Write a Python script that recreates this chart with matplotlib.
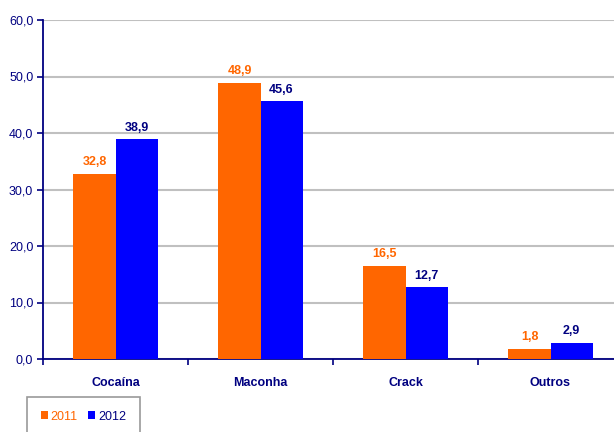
import matplotlib.pyplot as plt
import numpy as np

categories = ['Cocaína', 'Maconha', 'Crack', 'Outros']
vals_2011 = [32.8, 48.9, 16.5, 1.8]
vals_2012 = [38.9, 45.6, 12.7, 2.9]
years = ['2011', '2012']

orange = '#FF6600'
blue = '#0000FF'
navy = '#000080'

fig = plt.figure(figsize=(6.14, 4.32), dpi=100)
ax = fig.add_axes([43/614, 73/432, 580/614, 339/432])

x = np.arange(len(categories))
w = 0.29
b1 = ax.bar(x - w/2, vals_2011, w, color=orange, zorder=3, label=years[0])
b2 = ax.bar(x + w/2, vals_2012, w, color=blue, zorder=3, label=years[1])

for xi, v in zip(x, vals_2011):
    ax.text(xi - w/2, v + 1.0, '{:.1f}'.format(v).replace('.', ','), ha='center', va='bottom',
            color=orange, fontsize=9, fontweight='bold', family='Liberation Sans')
for xi, v in zip(x, vals_2012):
    ax.text(xi + w/2, v + 1.0, '{:.1f}'.format(v).replace('.', ','), ha='center', va='bottom',
            color=navy, fontsize=9, fontweight='bold', family='Liberation Sans')

ax.set_xlim(-0.5, 3.5)
ax.set_ylim(0, 60)
ax.set_yticks(np.arange(0, 61, 10))
ax.set_yticklabels(['{:.1f}'.format(t).replace('.', ',') for t in np.arange(0, 61, 10)],
                   color=navy, fontsize=9, family='Liberation Sans')
ax.yaxis.grid(True, color='#C0C0C0', linewidth=1.5, zorder=0)

ax.set_xticks(x)
ax.set_xticklabels(categories, color=navy, fontsize=9, fontweight='bold', family='Liberation Sans')
ax.set_xticks(np.arange(-0.5, 4, 1), minor=True)
ax.tick_params(axis='x', which='major', length=0, pad=13)
ax.tick_params(axis='x', which='minor', length=4, color=navy, width=1.2)
ax.tick_params(axis='y', length=4, color=navy, width=1.2, pad=3)

for s in ['top', 'right']:
    ax.spines[s].set_visible(False)
for s in ['left', 'bottom']:
    ax.spines[s].set_color(navy)
    ax.spines[s].set_linewidth(1.3)

leg = fig.legend(handles=[b1, b2], loc='upper left', bbox_to_anchor=(27/614, 1 - 397/432),
                 borderaxespad=0, ncol=2, frameon=True, fancybox=False,
                 handlelength=0.6, handleheight=0.6, handletextpad=0.2, columnspacing=0.8,
                 borderpad=1.1, prop={'family': 'Liberation Sans', 'size': 9})
leg.get_frame().set_edgecolor('#808080')
leg.get_frame().set_linewidth(1.2)
leg.get_texts()[0].set_color(orange)
leg.get_texts()[1].set_color(navy)

fig.savefig('out.png', dpi=100)
